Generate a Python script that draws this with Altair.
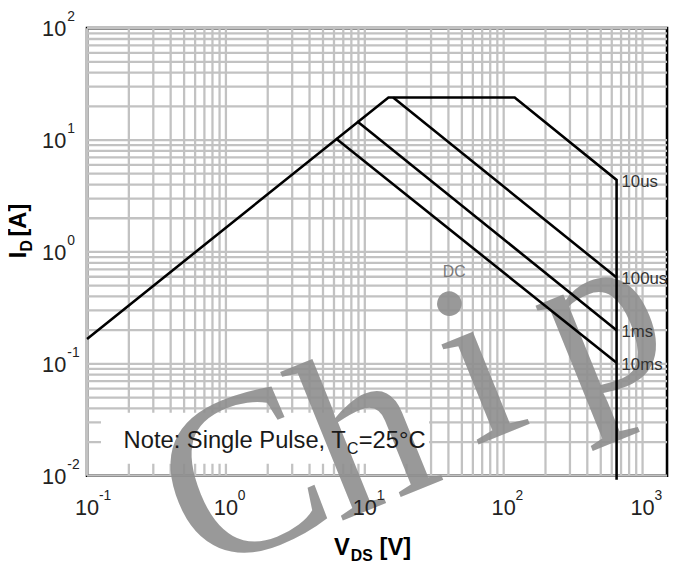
import altair as alt
import pandas as pd

# ---------------- data ----------------
# Safe-operating-area envelope (RDS(on) limit, current limit, 10us power limit, BVDSS)
limit_v = [0.1, 14.8, 120, 650, 650]
limit_i = [0.167, 24, 24, 4.4, 0.0092]

# Pulse-width power limit lines
pulse_names = ["100us", "1ms", "10ms"]
pulse_v_start = [16, 8.8, 6.2]
pulse_i_start = [24, 14.7, 10.3]
pulse_v_end = [650, 650, 650]
pulse_i_end = [0.59, 0.2, 0.102]

# Curve labels at the right end
label_names = ["10us", "100us", "1ms", "10ms"]
label_v = [650, 650, 650, 650]
label_i = [4.4, 0.59, 0.2, 0.102]

dc_text = ["DC"]
dc_v = [44]
dc_i = [0.66]

x_ticks = [0.1, 1, 10, 100, 1000]
x_exp = ["-1", "0", "1", "2", "3"]
y_ticks = [0.01, 0.1, 1, 10, 100]
y_exp = ["-2", "-1", "0", "1", "2"]

x_grid = [k * 10.0 ** e for e in range(-1, 3) for k in range(1, 10)] + [1000]
y_grid = [k * 10.0 ** e for e in range(-2, 2) for k in range(1, 10)] + [100]

watermark_letters = ["C", "h", "i", "p"]

# ---------------- chart ----------------
W, H = 587, 453
FONT = "Liberation Sans"
X_MIN, X_MAX, Y_MIN, Y_MAX = 0.1, 1500, 0.01, 100
xs = alt.Scale(type="log", domain=[X_MIN, X_MAX], nice=False)
ys = alt.Scale(type="log", domain=[Y_MIN, Y_MAX], nice=False)

env_df = pd.DataFrame({"v": limit_v, "i": limit_i, "k": list(range(len(limit_v)))})
pulse_df = pd.DataFrame({"name": pulse_names, "v0": pulse_v_start, "i0": pulse_i_start,
                         "v1": pulse_v_end, "i1": pulse_i_end})
lab_df = pd.DataFrame({"name": label_names, "v": label_v, "i": label_i})
dc_df = pd.DataFrame({"t": dc_text, "v": dc_v, "i": dc_i})
xt_df = pd.DataFrame({"v": x_ticks, "e": x_exp, "i": [Y_MIN] * len(x_ticks)})
yt_df = pd.DataFrame({"i": y_ticks, "e": y_exp, "v": [X_MIN] * len(y_ticks)})
xg_df = pd.DataFrame({"g": x_grid, "lo": [Y_MIN] * len(x_grid), "hi": [Y_MAX] * len(x_grid)})
yg_df = pd.DataFrame({"g": y_grid, "lo": [X_MIN] * len(y_grid), "hi": [X_MAX] * len(y_grid)})
one = pd.DataFrame({"a": [0]})

GRID = "#c2c2c2"
vgrid = alt.Chart(xg_df).mark_rule(color=GRID, strokeWidth=2.3).encode(
    x=alt.X("g:Q", scale=xs, axis=None),
    y=alt.Y("lo:Q", scale=ys, axis=None), y2="hi:Q")
hgrid = alt.Chart(yg_df).mark_rule(color=GRID, strokeWidth=2.3).encode(
    y=alt.Y("g:Q", scale=ys, axis=None),
    x=alt.X("lo:Q", scale=xs, axis=None), x2="hi:Q")

box_df = pd.DataFrame({"x0": [0.126], "x1": [29], "y0": [0.0128], "y1": [0.0365]})
note_box = alt.Chart(box_df).mark_rect(fill="white").encode(
    x=alt.X("x0:Q", scale=xs, axis=None), x2="x1:Q",
    y=alt.Y("y0:Q", scale=ys, axis=None), y2="y1:Q",
)

wm_df = pd.DataFrame({"t": watermark_letters,
                      "px": [185, 309, 422, 544],
                      "py": [525, 478, 411, 361]})
watermark = alt.Chart(wm_df).mark_text(
    font="Liberation Serif", fontSize=235, angle=338, align="center",
    baseline="alphabetic", color="#8f8f8f", opacity=0.9
).encode(
    x=alt.X("px:Q", scale=None, axis=None),
    y=alt.Y("py:Q", scale=None, axis=None),
    text="t:N",
)

envelope = alt.Chart(env_df).mark_line(color="black", strokeWidth=2.6).encode(
    x=alt.X("v:Q", scale=xs, axis=None),
    y=alt.Y("i:Q", scale=ys, axis=None),
    order="k:Q",
)

pulses = alt.Chart(pulse_df).mark_rule(color="black", strokeWidth=2.6).encode(
    x=alt.X("v0:Q", scale=xs, axis=None), x2="v1:Q",
    y=alt.Y("i0:Q", scale=ys, axis=None), y2="i1:Q",
)

curve_labels = alt.Chart(lab_df).mark_text(
    font=FONT, fontSize=17, align="left", baseline="middle", dx=5, dy=2, color="#333333"
).encode(
    x=alt.X("v:Q", scale=xs, axis=None),
    y=alt.Y("i:Q", scale=ys, axis=None),
    text="name:N",
)

dc_label = alt.Chart(dc_df).mark_text(
    font=FONT, fontSize=16, align="center", baseline="middle", color="#7a7a7a"
).encode(
    x=alt.X("v:Q", scale=xs, axis=None),
    y=alt.Y("i:Q", scale=ys, axis=None),
    text="t:N",
)

xt_base = alt.Chart(xt_df).mark_text(
    font=FONT, fontSize=22, align="center", baseline="middle", dy=33, color="#222222"
).encode(x=alt.X("v:Q", scale=xs, axis=None), y=alt.Y("i:Q", scale=ys, axis=None),
         text=alt.value("10"))
xt_exp = alt.Chart(xt_df).mark_text(
    font=FONT, fontSize=14, align="left", baseline="middle", dx=12, dy=21, color="#222222"
).encode(x=alt.X("v:Q", scale=xs, axis=None), y=alt.Y("i:Q", scale=ys, axis=None),
         text="e:N")

yt_base = alt.Chart(yt_df).mark_text(
    font=FONT, fontSize=22, align="right", baseline="middle", dx=-21, dy=1, color="#222222"
).encode(x=alt.X("v:Q", scale=xs, axis=None), y=alt.Y("i:Q", scale=ys, axis=None),
         text=alt.value("10"))
yt_exp = alt.Chart(yt_df).mark_text(
    font=FONT, fontSize=14, align="left", baseline="middle", dx=-20, dy=-11, color="#222222"
).encode(x=alt.X("v:Q", scale=xs, axis=None), y=alt.Y("i:Q", scale=ys, axis=None),
         text="e:N")


def txt(s, px, py, size, bold=False, angle=0, align="left", baseline="alphabetic", color="black"):
    kw = dict(font=FONT, fontSize=size, align=align, baseline=baseline, color=color)
    if bold:
        kw["fontWeight"] = "bold"
    if angle:
        kw["angle"] = angle
    return alt.Chart(one).mark_text(**kw).encode(
        x=alt.value(px), y=alt.value(py), text=alt.value(s))


# note (image coords minus plot origin 88,25)
note = [
    txt("Note: Single Pulse, T", 37, 425, 24, color="#1a1a1a"),
    txt("C", 37 + 226, 431, 16, color="#1a1a1a"),
    txt("=25°C", 37 + 238, 425, 24, color="#1a1a1a"),
]

# axis titles
x_title = [
    txt("V", 250, 533, 24, bold=True),
    txt("DS", 267, 539, 16, bold=True),
    txt("[V]", 296, 533, 24, bold=True),
]
y_title = [
    txt("I", -62, 233, 24, bold=True, angle=270),
    txt("D", -56, 226, 16, bold=True, angle=270),
    txt("[A]", -62, 211, 24, bold=True, angle=270),
]

chart = alt.layer(
    vgrid, hgrid, note_box, watermark, envelope, pulses, curve_labels, dc_label,
    xt_base, xt_exp, yt_base, yt_exp, *note, *x_title, *y_title
).properties(
    width=W, height=H,
    padding={"left": 80, "top": 17, "right": 2, "bottom": 90},
    autosize=alt.AutoSizeParams(type="none"),
).configure_view(stroke="black", strokeWidth=2.6)

chart.save("out.html", embed_options={"renderer": "svg", "actions": False})
